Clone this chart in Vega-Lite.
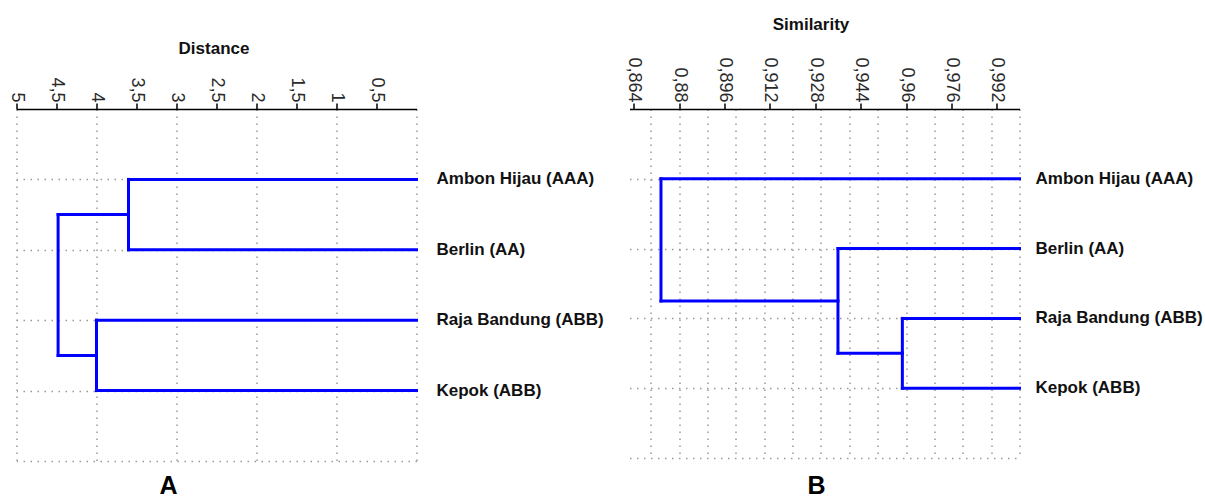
{
  "$schema": "https://vega.github.io/schema/vega-lite/v6.json",
  "background": "white",
  "padding": {"left": 7.5, "top": 15, "right": 0, "bottom": 0},
  "bounds": "flush",
  "spacing": 213,
  "config": {
    "view": {"stroke": null},
    "font": "Liberation Sans",
    "axis": {"labelFont": "Liberation Sans", "titleFont": "Liberation Sans"}
  },
  "datasets": {
    "segA": [
      {"x": 3.6, "x2": 0, "y": 1, "y2": 1},
      {"x": 3.6, "x2": 0, "y": 2, "y2": 2},
      {"x": 4.0, "x2": 0, "y": 3, "y2": 3},
      {"x": 4.0, "x2": 0, "y": 4, "y2": 4},
      {"x": 3.6, "x2": 3.6, "y": 1, "y2": 2},
      {"x": 4.0, "x2": 4.0, "y": 3, "y2": 4},
      {"x": 4.48, "x2": 3.6, "y": 1.5, "y2": 1.5},
      {"x": 4.48, "x2": 4.0, "y": 3.5, "y2": 3.5},
      {"x": 4.48, "x2": 4.48, "y": 1.5, "y2": 3.5}
    ],
    "leafA": [
      {"name": "Ambon Hijau (AAA)", "x": 0, "y": 1},
      {"name": "Berlin (AA)", "x": 0, "y": 2},
      {"name": "Raja Bandung (ABB)", "x": 0, "y": 3},
      {"name": "Kepok (ABB)", "x": 0, "y": 4}
    ],
    "segB": [
      {"x": 0.8736, "x2": 1.0, "y": 1, "y2": 1},
      {"x": 0.936, "x2": 1.0, "y": 2, "y2": 2},
      {"x": 0.9587, "x2": 1.0, "y": 3, "y2": 3},
      {"x": 0.9587, "x2": 1.0, "y": 4, "y2": 4},
      {"x": 0.9587, "x2": 0.9587, "y": 3, "y2": 4},
      {"x": 0.936, "x2": 0.9587, "y": 3.5, "y2": 3.5},
      {"x": 0.936, "x2": 0.936, "y": 2, "y2": 3.5},
      {"x": 0.8736, "x2": 0.936, "y": 2.75, "y2": 2.75},
      {"x": 0.8736, "x2": 0.8736, "y": 1, "y2": 2.75}
    ],
    "leafB": [
      {"name": "Ambon Hijau (AAA)", "x": 1.0, "y": 1},
      {"name": "Berlin (AA)", "x": 1.0, "y": 2},
      {"name": "Raja Bandung (ABB)", "x": 1.0, "y": 3},
      {"name": "Kepok (ABB)", "x": 1.0, "y": 4}
    ]
  },
  "hconcat": [
    {
      "width": 400,
      "height": 352,
      "title": {"text": "A", "orient": "bottom", "anchor": "middle", "frame": "group", "dx": -48, "offset": 38, "fontSize": 25, "fontWeight": "bold", "color": "#000", "baseline": "bottom", "font": "Liberation Sans"},
      "layer": [
        {
          "data": {"name": "segA"},
          "mark": {"type": "rule", "color": "#0000ff", "strokeWidth": 3, "strokeCap": "square"},
          "encoding": {
            "x": {"field": "x", "type": "quantitative", "scale": {"domain": [0, 5], "reverse": true, "nice": false, "zero": false},
              "axis": {"orient": "top", "values": [0.5, 1, 1.5, 2, 2.5, 3, 3.5, 4, 4.5, 5], "grid": false, "labelAngle": 90, "labelFontSize": 18, "labelColor": "#2a2a2a", "labelPadding": 1, "labelExpr": "replace(format(datum.value, '.1~f'), '.', ',')", "labelFlush": false, "labelOverlap": false, "ticks": true, "tickSize": 6, "tickWidth": 1.5, "tickColor": "#000", "domain": true, "domainColor": "#000", "domainWidth": 1.5, "title": "Distance", "titleFontSize": 17, "titleFontWeight": "bold", "titleColor": "#111", "titleX": 197, "titleY": -56, "titleBaseline": "alphabetic", "titleAlign": "center"}},
            "x2": {"field": "x2"},
            "y": {"field": "y", "type": "quantitative", "scale": {"domain": [0, 5], "reverse": true, "nice": false, "zero": false},
              "axis": {"orient": "left", "values": [1, 2, 3, 4, 5], "grid": true, "gridColor": "#999", "gridDash": [1.5, 5.5], "gridWidth": 1.5, "labels": false, "ticks": false, "domain": false, "title": null}},
            "y2": {"field": "y2"}
          }
        },
        {
          "data": {"name": "leafA"},
          "mark": {"type": "text", "align": "left", "baseline": "middle", "dx": 20, "fontSize": 17, "fontWeight": "bold", "color": "#111"},
          "encoding": {
            "x": {"field": "x", "type": "quantitative",
              "axis": {"orient": "top", "values": [0, 1, 2, 3, 4, 5], "grid": true, "gridColor": "#999", "gridDash": [1.5, 5.5], "gridWidth": 1.5, "labels": false, "ticks": false, "domain": false, "title": null}},
            "y": {"field": "y", "type": "quantitative"},
            "text": {"field": "name"}
          }
        }
      ],
      "resolve": {"axis": {"x": "independent"}}
    },
    {
      "width": 390,
      "height": 349,
      "title": {"text": "B", "orient": "bottom", "anchor": "middle", "frame": "group", "dx": -8, "offset": 41, "fontSize": 25, "fontWeight": "bold", "color": "#000", "baseline": "bottom", "font": "Liberation Sans"},
      "layer": [
        {
          "data": {"name": "segB"},
          "mark": {"type": "rule", "color": "#0000ff", "strokeWidth": 3, "strokeCap": "square"},
          "encoding": {
            "x": {"field": "x", "type": "quantitative", "scale": {"domain": [0.8625, 1.0], "nice": false, "zero": false},
              "axis": {"orient": "top", "values": [0.864, 0.88, 0.896, 0.912, 0.928, 0.944, 0.96, 0.976, 0.992], "grid": false, "labelAngle": 90, "labelFontSize": 18, "labelColor": "#2a2a2a", "labelPadding": 1, "labelExpr": "replace(format(datum.value, '.3~f'), '.', ',')", "labelFlush": false, "labelOverlap": false, "ticks": true, "tickSize": 6, "tickWidth": 1.5, "tickColor": "#000", "domain": true, "domainColor": "#000", "domainWidth": 1.5, "title": "Similarity", "titleFontSize": 17, "titleFontWeight": "bold", "titleColor": "#111", "titleX": 181, "titleY": -80, "titleBaseline": "alphabetic", "titleAlign": "center"}},
            "x2": {"field": "x2"},
            "y": {"field": "y", "type": "quantitative", "scale": {"domain": [0, 5], "reverse": true, "nice": false, "zero": false},
              "axis": {"orient": "left", "values": [1, 2, 3, 4, 5], "grid": true, "gridColor": "#999", "gridDash": [1.5, 5.5], "gridWidth": 1.5, "labels": false, "ticks": false, "domain": false, "title": null}},
            "y2": {"field": "y2"}
          }
        },
        {
          "data": {"name": "leafB"},
          "mark": {"type": "text", "align": "left", "baseline": "middle", "dx": 16, "fontSize": 17, "fontWeight": "bold", "color": "#111"},
          "encoding": {
            "x": {"field": "x", "type": "quantitative",
              "axis": {"orient": "top", "values": [0.87, 0.88, 0.89, 0.9, 0.91, 0.92, 0.93, 0.94, 0.95, 0.96, 0.97, 0.98, 0.99, 1.0], "grid": true, "gridColor": "#999", "gridDash": [1.5, 5.5], "gridWidth": 1.5, "labels": false, "ticks": false, "domain": false, "title": null}},
            "y": {"field": "y", "type": "quantitative"},
            "text": {"field": "name"}
          }
        }
      ],
      "resolve": {"axis": {"x": "independent"}}
    }
  ]
}
